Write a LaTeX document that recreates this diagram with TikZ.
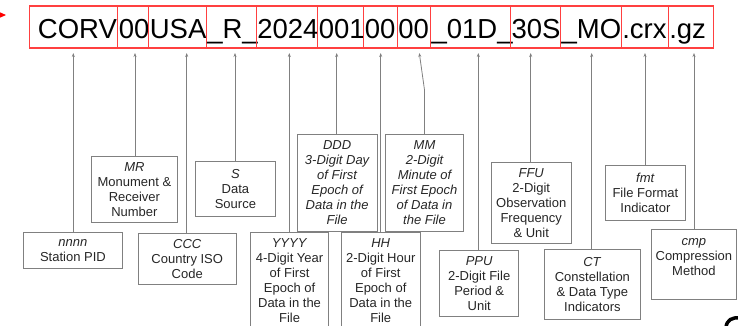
\documentclass[tikz,border=0pt]{standalone}
\usepackage{fontspec}
\setmainfont{Liberation Sans}
\usetikzlibrary{arrows.meta}

\begin{document}
\begin{tikzpicture}[x=1pt, y=-1pt,
        seg/.style={draw=red!75, line width=1.1pt, minimum height=42pt, inner xsep=1pt, inner ysep=0pt, anchor=west, font=\fontsize{27.5}{30}\selectfont, text height=24pt, text depth=2pt},
        info/.style={draw=black!50, line width=0.8pt, anchor=north west, inner sep=0pt, align=center, text=black!85, font=\fontsize{13}{15}\selectfont},
        infoit/.style={info, font=\fontsize{13}{15}\selectfont\itshape},
        arr/.style={-{Stealth[length=4pt,width=3pt]}, draw=black!50, line width=0.8pt},
    ]
    \useasboundingbox (0,0) rectangle (738,325);

    % Lead-in arrow
    \coordinate (leadA) at (-10,15);
    \coordinate (leadB) at (6,15);
    \draw[red, line width=1.4pt, -{Stealth[length=9pt,width=8pt]}] (leadA) -- (leadB);

    % File name segments
    \foreach \l/\r/\a/\t [count=\i] in {29.3/117.3/right/CORV, 117.3/148.3/left/00, 148.3/205.7/left/USA,
        205.7/255.7/left/\_R\_, 255.7/317.3/left/2024, 317.3/363.3/left/001, 363.3/396.7/left/00,
        396.7/430/left/00, 430/510/left/\_01D\_, 510/560/left/30S, 560/620.7/left/\_MO,
        620.7/667.7/left/.crx, 667.7/713.3/left/.gz} {
        \pgfmathsetmacro\w{\r-\l-2}
        \node[seg, text width=\w pt, align=\a] (seg\i) at (\l,27) {\t};
    }

    % Arrow tips under the segments
    \foreach \x [count=\i] in {73.3,135,186.7,235,289.3,336.7,380.7,419.3,478.3,530.7,591.7,645,694}
        \coordinate (tip\i) at (\x,53);

    % Description boxes
    \node[info, minimum width=98.4pt, minimum height=36.6pt] (pid) at (23.3,231.7) {\textit{nnnn}\\Station PID};
    \node[info, minimum width=86.6pt, minimum height=66.3pt] (mr) at (90.7,156) {\textit{MR}\\Monument \&\\Receiver\\Number};
    \node[info, minimum width=98.3pt, minimum height=51.6pt] (ccc) at (137.7,232.7) {\textit{CCC}\\Country ISO\\Code};
    \node[info, minimum width=80pt, minimum height=55.3pt] (src) at (195,160.7) {\textit{S}\\Data\\Source};
    \node[info, minimum width=78.3pt, minimum height=96pt] (yyyy) at (250,232.3) {\textit{YYYY}\\4-Digit Year\\of First\\Epoch of\\Data in the\\File};
    \node[infoit, minimum width=80pt, minimum height=96.7pt] (ddd) at (296.7,134.3) {DDD\\3-Digit Day\\of First\\Epoch of\\Data in the\\File};
    \node[info, minimum width=79.3pt, minimum height=96pt] (hh) at (340.7,232.3) {\textit{HH}\\2-Digit Hour\\of First\\Epoch of\\Data in the\\File};
    \node[infoit, minimum width=78.3pt, minimum height=96.7pt] (mm) at (385,134.3) {MM\\2-Digit\\Minute of\\First Epoch\\of Data in\\the File};
    \node[info, minimum width=79pt, minimum height=66pt] (ppu) at (439.3,250) {\textit{PPU}\\2-Digit File\\Period \&\\Unit};
    \node[info, minimum width=80.3pt, minimum height=81pt] (ffu) at (490.7,162.3) {\textit{FFU}\\2-Digit\\Observation\\Frequency\\\& Unit};
    \node[info, minimum width=96pt, minimum height=70pt] (ct) at (544,249.3) {\textit{CT}\\Constellation\\\& Data Type\\Indicators};
    \node[info, minimum width=80pt, minimum height=55pt] (fmt) at (605,165) {\textit{fmt}\\File Format\\Indicator};
    \node[info, minimum width=85pt, minimum height=69.7pt] (cmp) at (651,229.3) {\textit{cmp}\\Compression\\Method\\\mbox{}};

    % Arrows
    \draw[arr] (tip1 |- pid.north) -- (tip1);
    \draw[arr] (tip2 |- mr.north) -- (tip2);
    \draw[arr] (tip3 |- ccc.north) -- (tip3);
    \draw[arr] (tip4 |- src.north) -- (tip4);
    \draw[arr] (tip5 |- yyyy.north) -- (tip5);
    \draw[arr] (tip6 |- ddd.north) -- (tip6);
    \draw[arr] (tip7 |- hh.north) -- (tip7);
    \draw[arr] (mm.north) -- ++(0,-44) -- (tip8);
    \draw[arr] (tip9 |- ppu.north) -- (tip9);
    \draw[arr] (tip10 |- ffu.north) -- (tip10);
    \draw[arr] (tip11 |- ct.north) -- (tip11);
    \draw[arr] (tip12 |- fmt.north) -- (tip12);
    \draw[arr] (tip13 |- cmp.north) -- (tip13);

    % Corner mark
    \draw[line width=3.5pt] (726,327) .. controls (727,320) and (732,317) .. (740,318);

\end{tikzpicture}
\end{document}
